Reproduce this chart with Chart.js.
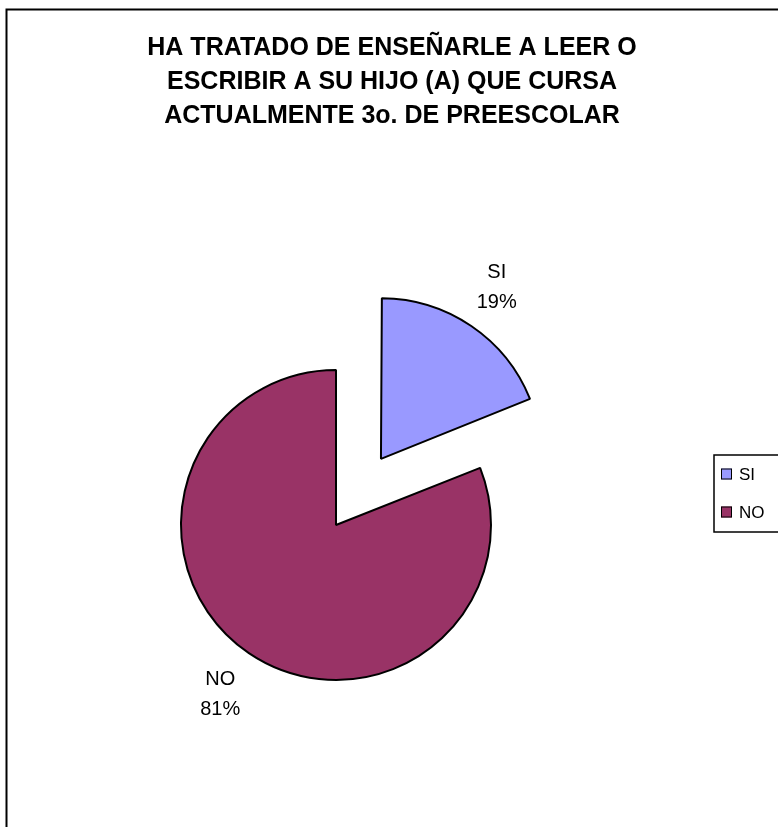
<!DOCTYPE html>
<html>
<head>
<meta charset="utf-8">
<script src="https://cdn.jsdelivr.net/npm/chart.js@4.4.1/dist/chart.umd.min.js"></script>
<style>
html, body { margin: 0; padding: 0; background: #fff; }
#c { display: block; }
</style>
</head>
<body>
<canvas id="c" width="778" height="827" style="width:778px;height:827px"></canvas>
<script>
// ---- data ----
const titleLines = ['HA TRATADO DE ENSEÑARLE A LEER O', 'ESCRIBIR A SU HIJO (A) QUE CURSA', 'ACTUALMENTE 3o. DE PREESCOLAR'];
const categories = ['SI', 'NO'];
const percentValues = [19, 81];
const sliceColors = ['#9999FF', '#993366'];

const FONT = 'Arial, "Liberation Sans", Helvetica, sans-serif';

// white background + outer chart frame
const framePlugin = {
  id: 'frame',
  beforeDraw(chart) {
    const ctx = chart.ctx;
    ctx.save();
    ctx.fillStyle = '#fff';
    ctx.fillRect(0, 0, chart.width, chart.height);
    ctx.strokeStyle = '#000';
    ctx.lineWidth = 2;
    ctx.strokeRect(6.5, 9.5, 900, 900);
    ctx.restore();
  }
};

// boxed legend as a layout box on the right
const boxedLegendPlugin = {
  id: 'boxedLegend',
  beforeInit(chart) {
    const box = {
      position: 'right', weight: 0, fullSize: false, options: {},
      left: 0, top: 0, right: 0, bottom: 0, width: 0, height: 0,
      isHorizontal() { return false; },
      update(maxWidth, maxHeight) { this.width = 112; this.height = maxHeight; },
      getPadding() { return { top: 0, left: 0, right: 0, bottom: 0 }; },
      draw() {
        const ctx = chart.ctx;
        const mid = (this.top + this.bottom) / 2;
        ctx.save();
        ctx.strokeStyle = '#000';
        ctx.lineWidth = 1.5;
        ctx.strokeRect(this.left + 48, mid - 70, 120, 77);
        ctx.font = '17px ' + FONT;
        ctx.textBaseline = 'middle';
        ctx.textAlign = 'left';
        const ds = chart.data.datasets[0];
        chart.data.labels.forEach((lab, i) => {
          const yc = mid - 51 + i * 38;
          ctx.fillStyle = ds.backgroundColor[i];
          ctx.fillRect(this.left + 55, yc - 5.5, 11, 11);
          ctx.lineWidth = 1;
          ctx.strokeStyle = '#000';
          ctx.strokeRect(this.left + 55.5, yc - 5, 10, 10);
          ctx.fillStyle = '#000';
          ctx.fillText(lab, this.left + 73, yc + 1);
        });
        ctx.restore();
      }
    };
    Chart.layouts.addBox(chart, box);
  }
};

// slice labels: category + percent outside the pie
const sliceLabelPlugin = {
  id: 'sliceLabels',
  afterDatasetsDraw(chart) {
    const ctx = chart.ctx;
    const meta = chart.getDatasetMeta(0);
    const data = chart.data.datasets[0].data;
    const total = data.reduce((a, b) => a + b, 0);
    ctx.save();
    ctx.font = '20px ' + FONT;
    ctx.fillStyle = '#000';
    ctx.textAlign = 'center';
    ctx.textBaseline = 'middle';
    meta.data.forEach((arc, i) => {
      const p = arc.getProps(['x', 'y', 'startAngle', 'endAngle', 'outerRadius'], true);
      const mid = (p.startAngle + p.endAngle) / 2;
      const shift = (arc.options.offset || 0) / 4;
      const r = shift + p.outerRadius + 51;
      const cx = p.x + Math.cos(mid) * r;
      const cy = p.y + Math.sin(mid) * r;
      ctx.fillText(chart.data.labels[i], cx, cy - 16);
      ctx.fillText(Math.round(data[i] / total * 100) + '%', cx, cy + 14);
    });
    ctx.restore();
  }
};

new Chart(document.getElementById('c'), {
  type: 'pie',
  data: {
    labels: categories,
    datasets: [{
      data: percentValues,
      backgroundColor: sliceColors,
      borderColor: '#000',
      borderWidth: 2,
      offset: [320, 0],
      radius: 155
    }]
  },
  options: {
    responsive: false,
    animation: false,
    layout: { padding: { left: 6, right: 0, top: 0, bottom: 0 } },
    plugins: {
      legend: { display: false },
      tooltip: { enabled: false },
      title: {
        display: true,
        text: titleLines,
        color: '#000',
        fullSize: true,
        font: { family: FONT, size: 25, weight: 'bold', lineHeight: 34 / 25 },
        padding: { top: 31, bottom: 90 }
      }
    }
  },
  plugins: [framePlugin, boxedLegendPlugin, sliceLabelPlugin]
});
</script>
</body>
</html>
